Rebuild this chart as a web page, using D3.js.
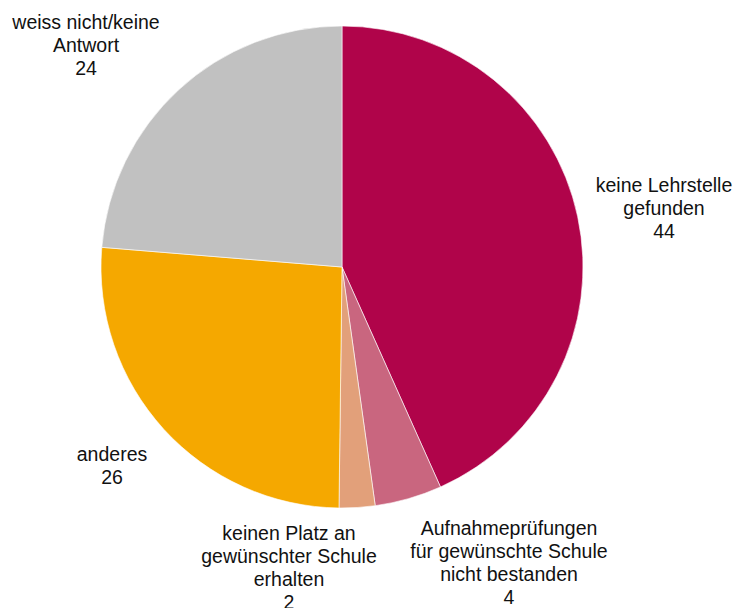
<!DOCTYPE html>
<html><head><meta charset="utf-8">
<script src="https://cdn.jsdelivr.net/npm/d3@7"></script>
<style>body{margin:0;background:#fff}svg{display:block}</style>
</head><body>
<svg id="c" width="740" height="608"></svg>
<script>
const categories = ["keine Lehrstelle gefunden","Aufnahmeprüfungen für gewünschte Schule nicht bestanden","keinen Platz an gewünschter Schule erhalten","anderes","weiss nicht/keine Antwort"];
// slice shares (percent)
const shares = [43.3, 4.5, 2.4, 26.1, 23.7];
// value labels as printed in the chart
const valueLabels = ["44", "4", "2", "26", "24"];
const colors = ["#B0044A", "#C9667F", "#E2A07A", "#F5A800", "#C1C1C1"];
const labelLines = [
  ["keine Lehrstelle","gefunden"],
  ["Aufnahmeprüfungen","für gewünschte Schule","nicht bestanden"],
  ["keinen Platz an","gewünschter Schule","erhalten"],
  ["anderes"],
  ["weiss nicht/keine","Antwort"]
];
const labelPos = [[664,192],[509,535],[289,540],[112,461],[86,29]];

const svg = d3.select("#c");
const cx = 342, cy = 267, R = 241;
const pie = d3.pie().sort(null).value(d => d)(shares);
const arc = d3.arc().innerRadius(0).outerRadius(R);
const g = svg.append("g").attr("transform", `translate(${cx},${cy})`);
g.selectAll("path").data(pie).join("path")
  .attr("d", arc).attr("fill", (d,i) => colors[i])
  .attr("stroke", "#fff").attr("stroke-width", 0.6);

const lh = 23;
labelPos.forEach((p, i) => {
  const t = svg.append("text").attr("text-anchor","middle")
    .attr("font-family","'Liberation Sans', Arial, sans-serif")
    .attr("font-size", 19.5).attr("fill","#111");
  const lines = labelLines[i].concat([valueLabels[i]]);
  lines.forEach((l, j) => {
    t.append("tspan").attr("x", p[0]).attr("y", p[1] + j*lh).text(l);
  });
});
</script>
</body></html>
